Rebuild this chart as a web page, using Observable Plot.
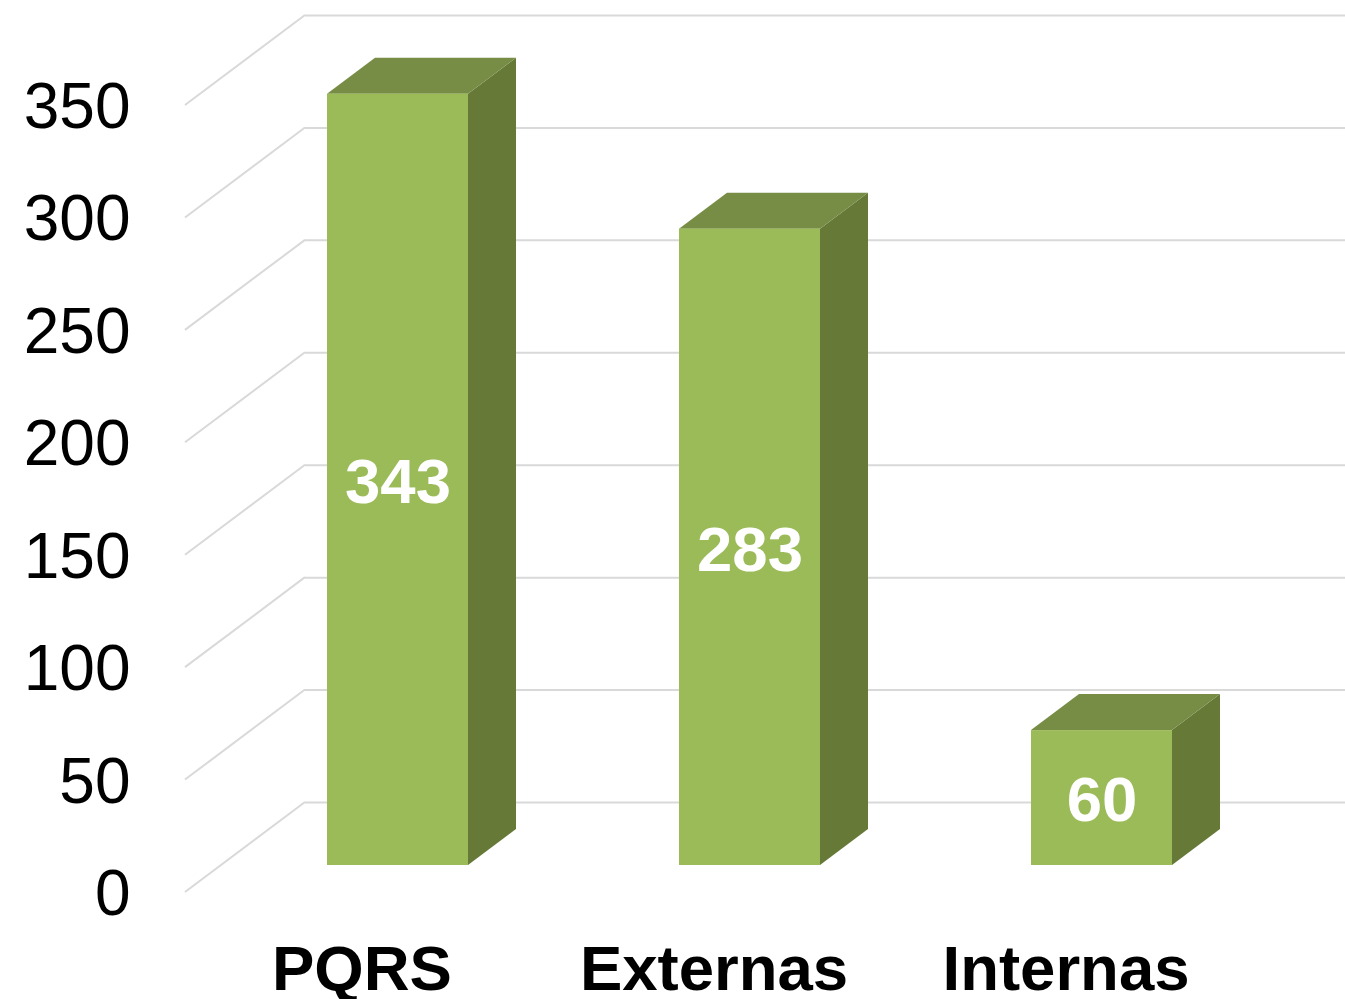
<!DOCTYPE html>
<html>
<head>
<meta charset="utf-8">
<script src="https://cdn.jsdelivr.net/npm/d3@7"></script>
<script src="https://cdn.jsdelivr.net/npm/@observablehq/plot@0.6"></script>
<style>
html,body{margin:0;padding:0;background:#fff;overflow:hidden}
svg{display:block}
</style>
</head>
<body>
<div id="chart"></div>
<script>
const categories = ["PQRS", "Externas", "Internas"];
const counts = [343, 283, 60];
const yTicks = [0, 50, 100, 150, 200, 250, 300, 350];

const rows = categories.map((c, i) => ({category: c, count: counts[i]}));

// Oblique projection of the 3D box: depth unit offsets in px
const wallDX = 120, wallDY = -90;
const barFrontDX = 36, barFrontDY = -27;
const barDepthDX = 48, barDepthDY = -36;

const green = "#9bbb59", side = "#667937", top_ = "#778d45";

function polygons(pointsFor, fill) {
  return (index, scales, values) => {
    const g = d3.create("svg:g");
    const bw = scales.x.bandwidth();
    for (const i of index) {
      const x0 = values.x[i] + barFrontDX;
      const x1 = x0 + bw;
      const yTop = values.y1[i] < values.y2[i] ? values.y1[i] : values.y2[i];
      const yBase = values.y1[i] < values.y2[i] ? values.y2[i] : values.y1[i];
      g.append("polygon")
        .attr("points", pointsFor(x0, x1, yTop + barFrontDY, yBase + barFrontDY).map(p => p.join(",")).join(" "))
        .attr("fill", fill);
    }
    return g.node();
  };
}

const sideFace = polygons((x0, x1, t, b) => [[x1, t], [x1 + barDepthDX, t + barDepthDY], [x1 + barDepthDX, b + barDepthDY], [x1, b]], side);
const topFace = polygons((x0, x1, t) => [[x0, t], [x0 + barDepthDX, t + barDepthDY], [x1 + barDepthDX, t + barDepthDY], [x1, t]], top_);

const wallLines = (index, scales, values, dims) => {
  const g = d3.create("svg:g").attr("stroke", "#d9d9d9").attr("stroke-width", 2);
  for (const i of index) {
    g.append("line")
      .attr("x1", dims.marginLeft).attr("y1", values.y[i])
      .attr("x2", dims.marginLeft + wallDX).attr("y2", values.y[i] + wallDY);
  }
  return g.node();
};

const chart = Plot.plot({
  width: 1345,
  height: 999,
  marginLeft: 185,
  marginRight: 103,
  marginTop: 105,
  marginBottom: 107,
  style: {background: "#fff", fontFamily: "Liberation Sans, Arial, sans-serif", overflow: "hidden"},
  x: {domain: categories, paddingInner: 0.6, paddingOuter: 0.3, align: 0.5, label: null},
  y: {domain: [0, 350], label: null},
  marks: [
    Plot.ruleY(yTicks, {stroke: "#d9d9d9", strokeWidth: 2, dx: wallDX, dy: wallDY}),
    Plot.ruleY(yTicks, {render: wallLines}),
    Plot.barY(rows, {x: "category", y: "count", render: sideFace}),
    Plot.barY(rows, {x: "category", y: "count", render: topFace}),
    Plot.barY(rows, {x: "category", y: "count", fill: green, dx: barFrontDX, dy: barFrontDY}),
    Plot.text(rows, {
      x: "category", y: d => d.count / 2, text: d => String(d.count),
      dx: barFrontDX, dy: barFrontDY + 3,
      fill: "#fff", fontSize: 63.5, fontWeight: "bold", textAnchor: "middle"
    }),
    Plot.axisY({ticks: yTicks, tickSize: 0, tickPadding: 55, dy: 2, fontSize: 64, fill: "#000", label: null, tickFormat: d => String(d)}),
    Plot.axisX({tickSize: 0, tickPadding: 52.5, fontSize: 63.5, fontWeight: "bold", fill: "#000", label: null})
  ]
});
document.getElementById("chart").append(chart);
</script>
</body>
</html>
